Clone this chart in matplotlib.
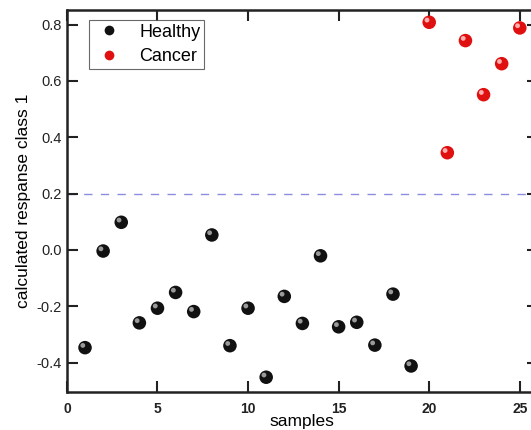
import matplotlib
matplotlib.use("Agg")
import matplotlib.pyplot as plt
import matplotlib.transforms as mtransforms
from matplotlib.lines import Line2D

plt.rcParams['font.family'] = ['Liberation Sans', 'DejaVu Sans']

# data
healthy_x = [1, 2, 3, 4, 5, 6, 7, 8, 9, 10, 11, 12, 13, 14, 15, 16, 17, 18, 19]
healthy_y = [-0.347, -0.004, 0.098, -0.259, -0.207, -0.151, -0.219, 0.053, -0.340,
             -0.207, -0.452, -0.165, -0.261, -0.021, -0.273, -0.257, -0.338, -0.157, -0.412]
cancer_x = [20, 21, 22, 23, 24, 25]
cancer_y = [0.808, 0.345, 0.743, 0.551, 0.661, 0.788]
threshold = 0.2
x_ticks = [0, 5, 10, 15, 20, 25]
y_ticks = [-0.4, -0.2, 0.0, 0.2, 0.4, 0.6, 0.8]

fig = plt.figure(figsize=(5.31, 4.30), dpi=100)
# the right spine sits just outside the picture, like in the original crop
ax = fig.add_axes([0.126, 0.088, 0.887, 0.889])

ax.axhline(threshold, color='#8c8ce0', lw=1.0, dashes=(6, 6), zorder=1)

# offset for the little highlight that makes the dots look like balls
hl = ax.transData + mtransforms.ScaledTranslation(-1.6 / 72, 1.6 / 72, fig.dpi_scale_trans)

ax.scatter(healthy_x, healthy_y, s=95, c='#111111', edgecolors='none', zorder=3)
ax.scatter(healthy_x, healthy_y, s=12, c='#9a9a9a', edgecolors='none', zorder=4, transform=hl)
ax.scatter(cancer_x, cancer_y, s=95, c='#e01010', edgecolors='none', zorder=3)
ax.scatter(cancer_x, cancer_y, s=12, c='#ffb0b0', edgecolors='none', zorder=4, transform=hl)

ax.set_xlim(0, 26)
ax.set_ylim(-0.505, 0.852)
ax.set_xticks(x_ticks)
ax.set_yticks(y_ticks)
ax.set_xticklabels([str(t) for t in x_ticks], fontweight='bold', fontsize=10)
ax.set_yticklabels(['%.1f' % t for t in y_ticks], fontsize=10.5)
ax.tick_params(direction='in', length=8, width=1.5, top=True, right=True, colors='#222222')
ax.tick_params(axis='x', pad=7)
for sp in ax.spines.values():
    sp.set_linewidth(1.8)
    sp.set_color('#222222')

ax.set_xlabel('samples', fontsize=12.5, labelpad=-1)
ax.set_ylabel('calculated respanse class 1', fontsize=12.5, labelpad=4)

handles = [
    Line2D([], [], ls='none', marker='o', ms=7, mfc='#111111', mec='none', label='Healthy'),
    Line2D([], [], ls='none', marker='o', ms=7, mfc='#e01010', mec='none', label='Cancer'),
]
leg = ax.legend(handles=handles, loc='upper left', bbox_to_anchor=(0.027, 0.997),
                fontsize=13, frameon=True, fancybox=False, edgecolor='#444444',
                handletextpad=0.8, borderpad=0.2, labelspacing=0.4, handlelength=1.8)
leg.get_frame().set_linewidth(0.8)

fig.savefig('out.png', dpi=100)
